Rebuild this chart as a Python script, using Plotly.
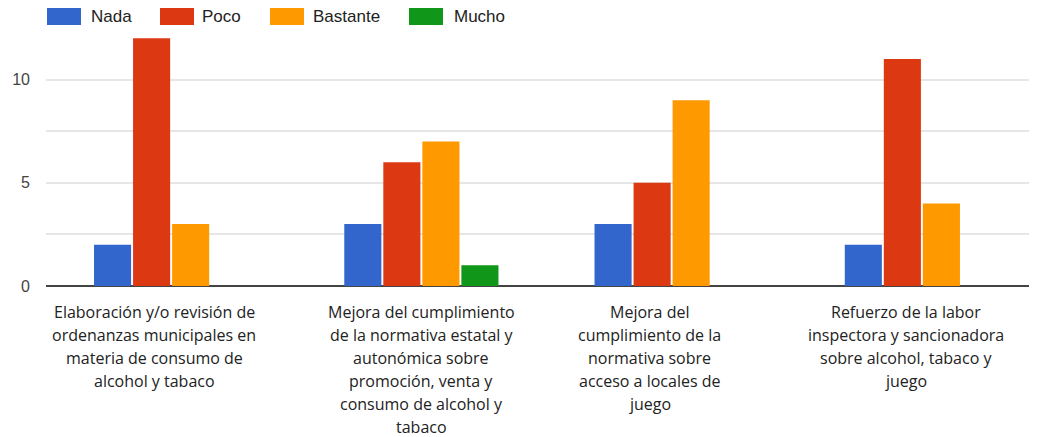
import plotly.graph_objects as go

# data
categories = [
    "Elaboración y/o revisión de ordenanzas municipales en materia de consumo de alcohol y tabaco",
    "Mejora del cumplimiento de la normativa estatal y autonómica sobre promoción, venta y consumo de alcohol y tabaco",
    "Mejora del cumplimiento de la normativa sobre acceso a locales de juego",
    "Refuerzo de la labor inspectora y sancionadora sobre alcohol, tabaco y juego",
]
category_lines = [
    ["Elaboración y/o revisión de", "ordenanzas municipales en", "materia de consumo de", "alcohol y tabaco"],
    ["Mejora del cumplimiento", "de la normativa estatal y", "autonómica sobre", "promoción, venta y",
     "consumo de alcohol y", "tabaco"],
    ["Mejora del", "cumplimiento de la", "normativa sobre", "acceso a locales de", "juego"],
    ["Refuerzo de la labor", "inspectora y sancionadora", "sobre alcohol, tabaco y", "juego"],
]
series_names = ["Nada", "Poco", "Bastante", "Mucho"]
nada = [2, 3, 3, 2]
poco = [12, 6, 5, 11]
bastante = [3, 7, 9, 4]
mucho = [0, 1, 0, 0]
y_tickvals = [0, 2.5, 5, 7.5, 10, 12.5]
y_ticktext = ["0", "", "5", "", "10", ""]

COLORS = ["#3366cc", "#dc3912", "#ff9900", "#109618"]
LABEL_XSHIFT = [-17, 0, -22, -16]
LEGEND_SWATCH_X = [1, 114, 224, 363]
LEGEND_TEXT_X = [43, 154, 265, 406]

fig = go.Figure()
for name, values, color in zip(series_names, [nada, poco, bastante, mucho], COLORS):
    fig.add_trace(go.Bar(
        x=categories, y=values, name=name,
        marker=dict(color=color, line=dict(width=0)),
        showlegend=False,
    ))

# category labels, one annotation per line to get the wider line spacing
annotations = []
for cat, lines, dx in zip(categories, category_lines, LABEL_XSHIFT):
    for i, line in enumerate(lines):
        annotations.append(dict(
            x=cat, xref="x", y=0, yref="paper",
            text=line, showarrow=False,
            xanchor="center", yanchor="middle",
            xshift=dx, yshift=-(25.5 + 23 * i),
            font=dict(family="Open Sans", size=16, color="#222222"),
        ))

# legend drawn by hand (wide swatches like the original)
shapes = []
for name, color, sx, tx in zip(series_names, COLORS, LEGEND_SWATCH_X, LEGEND_TEXT_X):
    shapes.append(dict(
        type="rect", xref="paper", yref="paper",
        xsizemode="pixel", ysizemode="pixel",
        xanchor=0, yanchor=1,
        x0=sx, x1=sx + 34, y0=3, y1=20,
        fillcolor=color, line=dict(width=0),
    ))
    annotations.append(dict(
        x=0, xref="paper", y=1, yref="paper",
        xshift=tx, yshift=11.5,
        text=name, showarrow=False,
        xanchor="left", yanchor="middle",
        font=dict(family="Arial", size=17, color="#222222"),
    ))

# page body adds an 8px margin, so the figure is sized to fit the window
fig.update_layout(
    width=1029, height=429,
    margin=dict(l=38, r=0, t=20, b=151),
    paper_bgcolor="white", plot_bgcolor="white",
    barmode="group", bargap=0.376, bargroupgap=0.05,
    annotations=annotations, shapes=shapes,
    xaxis=dict(
        range=[-0.5, 3.46], showticklabels=False, showgrid=False,
        zeroline=False, showline=False, ticks="",
    ),
    yaxis=dict(
        range=[0, 12.5], tickvals=y_tickvals, ticktext=y_ticktext,
        showgrid=True, gridcolor="#e6e6e6", gridwidth=1.5,
        zeroline=True, zerolinecolor="#444444", zerolinewidth=2,
        showline=False, ticks="", ticklabelstandoff=15,
        tickfont=dict(family="Arial", size=16, color="#444444"),
    ),
)

fig.write_html("out.html")
